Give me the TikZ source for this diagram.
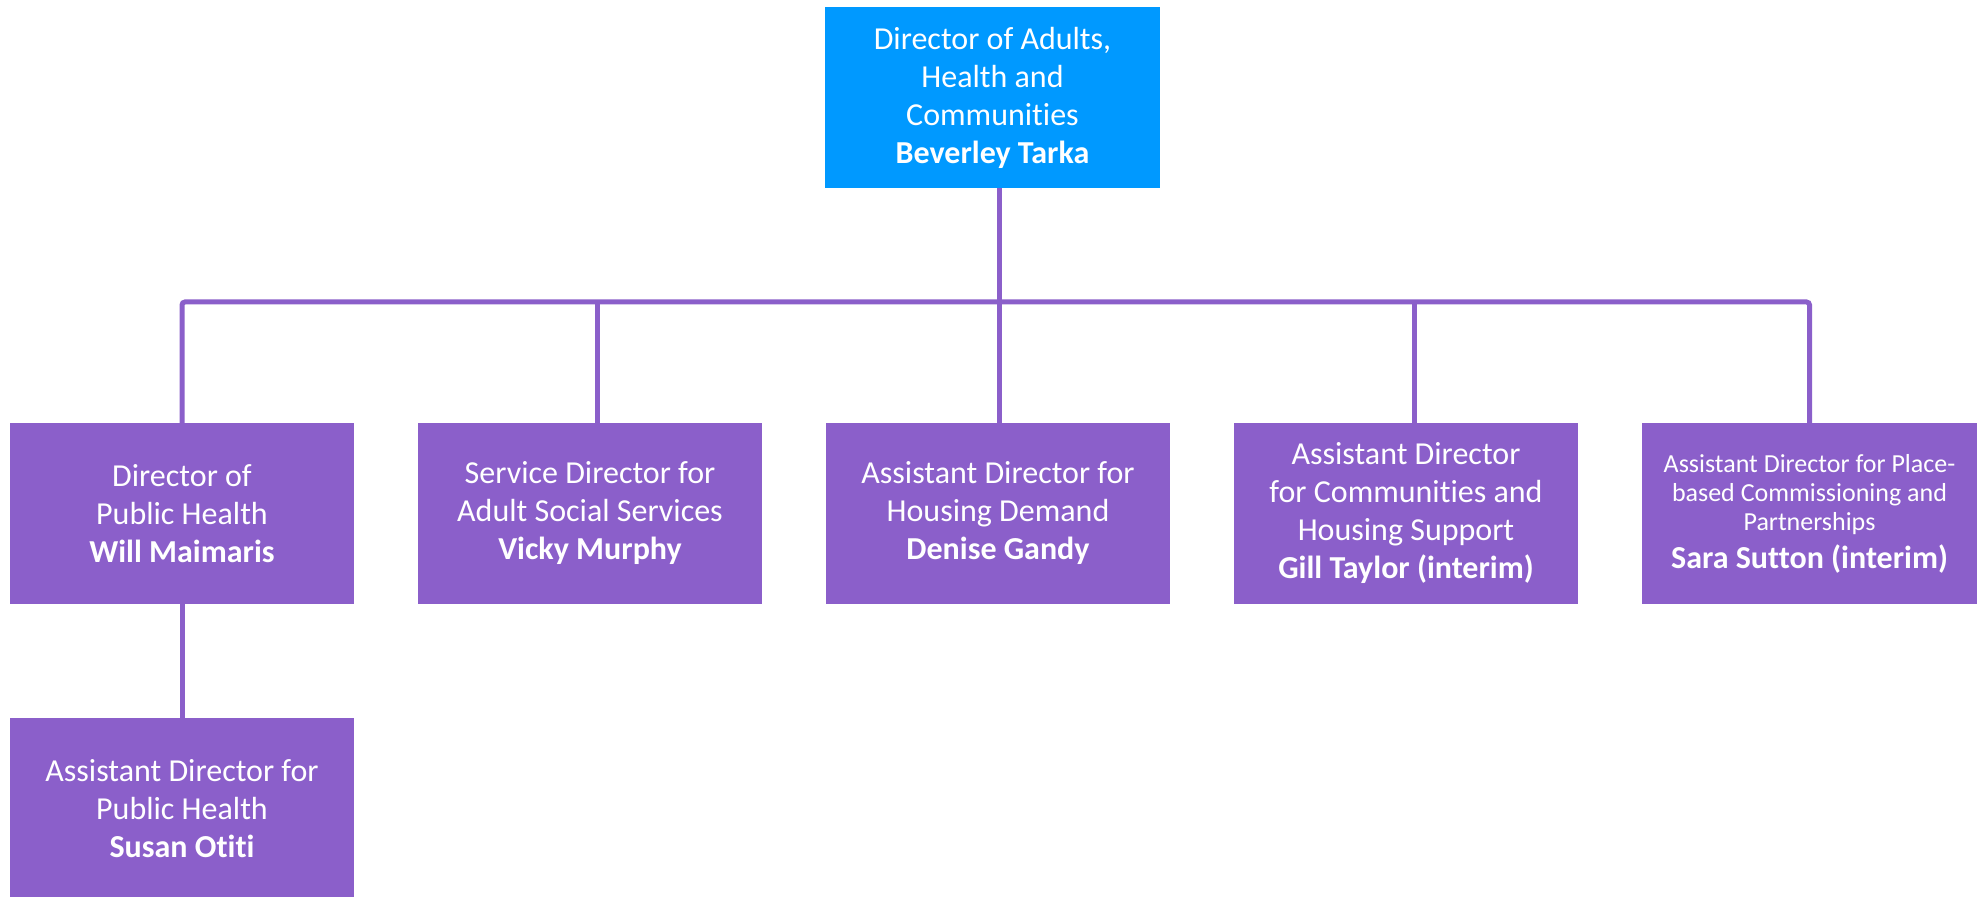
\documentclass[tikz,border=0pt]{standalone}
\usepackage{fontspec}
\setmainfont{Carlito}[Ligatures=NoCommon]
\usepackage{tikz}
\usetikzlibrary{positioning}
\definecolor{adpurple}{HTML}{8B5FCA}
\definecolor{dirblue}{HTML}{0099FF}

\begin{document}
\begin{tikzpicture}[x=0.5pt,y=-0.5pt,node distance=117.5pt and 32pt,
  box/.style={fill=#1,text=white,align=center,inner sep=0pt,outer sep=0pt,
    minimum width=172pt,minimum height=90.5pt,font=\fontsize{16}{19}\selectfont},
  box/.default=adpurple,
  link/.style={draw=adpurple,line width=2.5pt,rounded corners=1.5pt}]
  \useasboundingbox (0,0) rectangle (1980,897);
  \node[box=dirblue,minimum width=167.5pt] (dahc) at (992.5,97.5)
    {Director of Adults,\\Health and\\Communities\\\textbf{Beverley Tarka}};
  \node[box] (dph) at (182,513.5) {Director of\\Public Health\\\textbf{Will Maimaris}};
  \node[box,right=of dph] (sdass) {Service Director for\\Adult Social Services\\\textbf{Vicky Murphy}};
  \node[box,right=of sdass] (adhd) {Assistant Director for\\Housing Demand\\\textbf{Denise Gandy}};
  \node[box,right=of adhd] (adchs) {Assistant Director\\for Communities and\\Housing Support\\\textbf{Gill Taylor (interim)}};
  \node[box,right=of adchs,minimum width=167.5pt,font=\fontsize{13}{14.5}\selectfont] (adpc)
    {Assistant Director for Place-\\based Commissioning and\\Partnerships\\[4.5pt]{\fontsize{16}{19}\selectfont\bfseries Sara Sutton (interim)}};
  \node[box,below=57pt of dph] (adph) {Assistant Director for\\Public Health\\\textbf{Susan Otiti}};
  \coordinate (bar) at (0,302);
  % tree lines
  \draw[link] (dph.north) |- (adpc.north |- bar) -- (adpc.north);
  \draw[link] ([xshift=3.25pt]dahc.south) -- ([xshift=3.25pt]dahc.south |- adhd.north);
  \draw[link] ([xshift=3.75pt]sdass.north) -- ([xshift=3.75pt]sdass.north |- bar);
  \draw[link] ([xshift=4pt]adchs.north) -- ([xshift=4pt]adchs.north |- bar);
  \draw[link] (dph.south) -- (adph.north);
\end{tikzpicture}
\end{document}
